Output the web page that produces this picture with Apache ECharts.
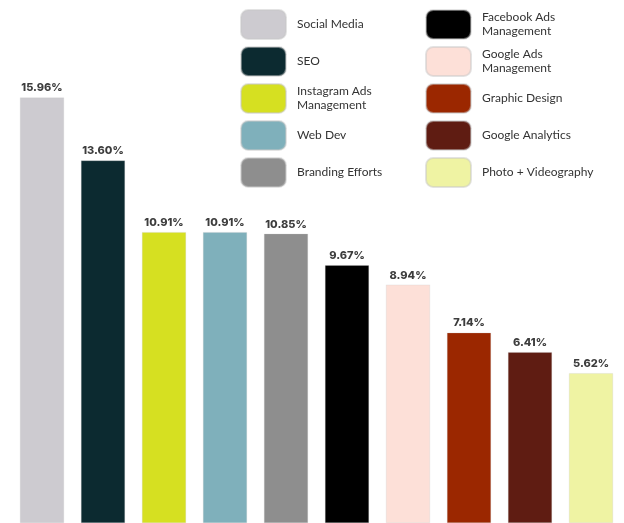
<!DOCTYPE html>
<html>
<head>
<meta charset="utf-8">
<script src="https://cdn.jsdelivr.net/npm/echarts@6/dist/echarts.min.js"></script>
<style>
  html, body { margin: 0; padding: 0; background: #fff; }
  #chart { width: 624px; height: 523px; }
</style>
</head>
<body>
<div id="chart"></div>
<script>
const categories = ['Social Media', 'SEO', 'Instagram Ads Management', 'Web Dev', 'Branding Efforts',
  'Facebook Ads Management', 'Google Ads Management', 'Graphic Design', 'Google Analytics', 'Photo + Videography'];
const shares = [15.96, 13.60, 10.91, 10.91, 10.85, 9.67, 8.94, 7.14, 6.41, 5.62];
const colors = ['#cdcbd0', '#0c2a30', '#d6e021', '#7fb0bb', '#8e8e8e',
  '#000000', '#fde0d8', '#9b2700', '#5f1c12', '#eff3a3'];
const legendText = {
  'Instagram Ads Management': 'Instagram Ads\nManagement',
  'Facebook Ads Management': 'Facebook Ads\nManagement',
  'Google Ads Management': 'Google Ads\nManagement'
};

const chart = echarts.init(document.getElementById('chart'));

// one series per service so each gets its own legend entry; stacked so they stay centred
const series = categories.map((name, i) => ({
  name: name,
  type: 'bar',
  stack: 'all',
  barWidth: 44,
  itemStyle: { color: colors[i], borderColor: 'rgba(200,200,200,0.5)', borderWidth: 0.5 },
  label: {
    show: true,
    position: 'top',
    distance: 4,
    formatter: p => p.value.toFixed(2) + '%',
    color: '#3d3d3d',
    fontFamily: 'Inter',
    fontWeight: 800,
    fontSize: 11
  },
  data: categories.map((c, j) => j === i ? shares[i] : '-')
}));

const legendBase = {
  orient: 'vertical',
  top: 9,
  padding: 0,
  itemWidth: 45,
  itemHeight: 29,
  itemGap: 6,
  icon: 'roundRect',
  formatter: n => legendText[n] || n,
  textStyle: { fontFamily: 'Lato', fontSize: 12, color: '#333', lineHeight: 14, padding: [0, 0, 0, 6] }
};

const option = {
  animation: false,
  grid: { left: 11.5, right: 2.5, top: 0, bottom: 0 },
  legend: [
    Object.assign({}, legendBase, { left: 240, data: categories.slice(0, 5) }),
    Object.assign({}, legendBase, { left: 425, data: categories.slice(5) })
  ],
  xAxis: { type: 'category', data: categories, show: false },
  yAxis: { type: 'value', min: 0, max: 19.62, show: false },
  series: series
};

chart.setOption(option);
</script>
</body>
</html>
